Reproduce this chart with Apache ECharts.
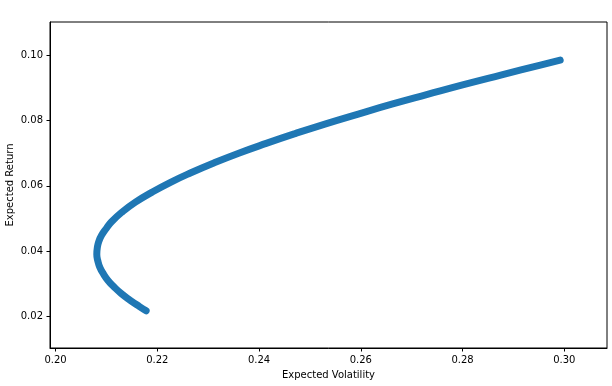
<!DOCTYPE html>
<html>
<head>
<meta charset="utf-8">
<script src="https://cdn.jsdelivr.net/npm/echarts@6/dist/echarts.min.js"></script>
<style>
html,body{margin:0;padding:0;background:#fff;}
#chart{width:612px;height:386px;}
</style>
</head>
<body>
<div id="chart"></div>
<script>
// Values
var volatility = [0.2178, 0.2165, 0.2146, 0.2129, 0.2115, 0.2103, 0.2094, 0.2087, 0.2083, 0.2081,
  0.2082, 0.2085, 0.2091, 0.2100, 0.2110, 0.2131, 0.2157, 0.2189, 0.2225, 0.2266,
  0.2311, 0.2360, 0.2414, 0.2471, 0.2531, 0.2595, 0.2661, 0.2731, 0.2802, 0.2877,
  0.2953, 0.2992];
var expectedReturn = [0.0217, 0.0230, 0.0250, 0.0270, 0.0290, 0.0310, 0.0330, 0.0350, 0.0370, 0.0390,
  0.0410, 0.0430, 0.0450, 0.0470, 0.0490, 0.0520, 0.0550, 0.0580, 0.0610, 0.0640,
  0.0670, 0.0700, 0.0730, 0.0760, 0.0790, 0.0820, 0.0850, 0.0880, 0.0910, 0.0940,
  0.0970, 0.0985];
var xTicks = [0.20, 0.22, 0.24, 0.26, 0.28, 0.30];
var yTicks = [0.02, 0.04, 0.06, 0.08, 0.10];

var points = volatility.map(function (v, i) { return [v, expectedReturn[i]]; });

var chart = echarts.init(document.getElementById('chart'), null, {renderer: 'canvas'});
var font = 'DejaVu Sans';
chart.setOption({
  animation: false,
  backgroundColor: '#ffffff',
  grid: {left: 50, right: 5, top: 22, bottom: 38, outerBoundsMode: 'none', containLabel: false,
    show: true, borderColor: '#000', borderWidth: 1, backgroundColor: 'transparent'},
  xAxis: {
    type: 'value', min: 0.1989, max: 0.3084,
    name: 'Expected Volatility', nameLocation: 'middle', nameGap: 22, nameMoveOverlap: false,
    nameTextStyle: {fontFamily: font, fontSize: 10, color: '#000'},
    axisLine: {show: true, onZero: false, lineStyle: {color: '#000', width: 1}},
    axisTick: {show: true, length: 3.5, lineStyle: {color: '#000'}, customValues: xTicks},
    axisLabel: {fontFamily: font, fontSize: 10, color: '#000', margin: 7, customValues: xTicks,
      formatter: function (v) { return v.toFixed(2); }},
    splitLine: {show: false}
  },
  yAxis: {
    type: 'value', min: 0.0103, max: 0.1102,
    name: 'Expected Return', nameLocation: 'middle', nameGap: 35, nameRotate: 90, nameMoveOverlap: false,
    nameTextStyle: {fontFamily: font, fontSize: 10, color: '#000'},
    axisLine: {show: true, onZero: false, lineStyle: {color: '#000', width: 1}},
    axisTick: {show: true, length: 3.5, lineStyle: {color: '#000'}, customValues: yTicks},
    axisLabel: {fontFamily: font, fontSize: 10, color: '#000', margin: 7, customValues: yTicks,
      formatter: function (v) { return v.toFixed(2); }},
    splitLine: {show: false}
  },
  series: [{
    type: 'line',
    data: points,
    smooth: true,
    showSymbol: false,
    lineStyle: {color: '#1f77b4', width: 7, cap: 'round', join: 'round'}
  }]
});
</script>
</body>
</html>
